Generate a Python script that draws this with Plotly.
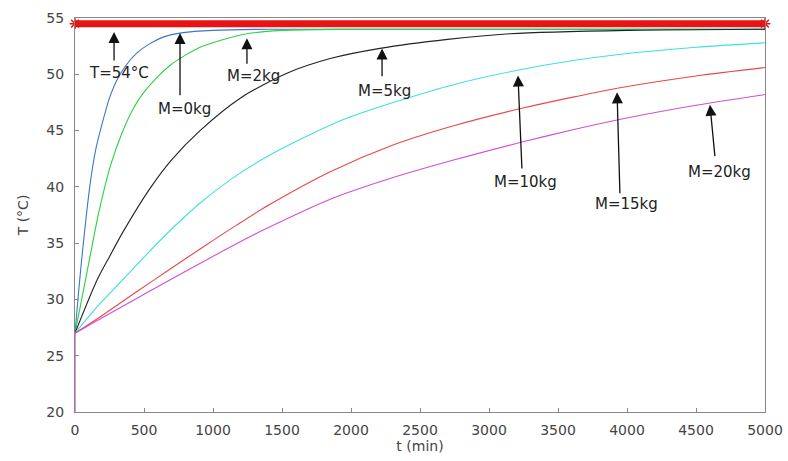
import plotly.graph_objects as go

# ---- data ----
t_init = [0, 0]
T_init = [20, 27]

t_m0 = [0, 30, 58, 109, 150, 203, 250, 304, 370, 449, 540, 638, 783, 1000, 1400, 5000]
T_m0 = [27, 31.2, 34.7, 40.2, 43.3, 45.9, 47.9, 49.5, 50.8, 51.9, 52.7, 53.3, 53.7, 53.9, 54.0, 54.0]

t_m2 = [0, 58, 123, 170, 260, 348, 420, 493, 600, 690, 800, 906, 1050, 1246, 1500, 2000, 5000]
T_m2 = [27, 30.6, 34.7, 37.6, 42.0, 45.0, 46.9, 48.3, 49.8, 50.8, 51.7, 52.4, 53.0, 53.6, 53.9, 54.0, 54.0]

t_m5 = [0, 159, 250, 348, 540, 700, 906, 1200, 1536, 1850, 2210, 2700, 3152, 4000, 5000]
T_m5 = [27, 31.7, 33.8, 36.0, 39.8, 42.4, 45.0, 47.9, 50.1, 51.4, 52.3, 53.1, 53.6, 53.9, 54.0]

t_m10 = [0, 150, 304, 480, 688, 900, 1145, 1380, 1630, 1950, 2283, 2750, 3225, 3600, 3971, 4500, 5000]
T_m10 = [27, 29.2, 31.2, 33.5, 36.1, 38.5, 40.8, 42.6, 44.2, 46.0, 47.4, 49.1, 50.4, 51.2, 51.8, 52.4, 52.8]

t_m15 = [0, 200, 449, 690, 928, 1170, 1413, 1850, 2300, 2750, 3246, 3600, 3971, 4500, 5000]
T_m15 = [27, 28.6, 30.7, 32.7, 34.65, 36.6, 38.45, 41.35, 43.7, 45.45, 47.0, 47.95, 48.85, 49.85, 50.6]

t_m20 = [0, 200, 449, 690, 928, 1170, 1413, 1850, 2300, 2750, 3246, 3600, 3971, 4500, 5000]
T_m20 = [27, 28.4, 30.1, 31.75, 33.35, 34.95, 36.45, 38.9, 40.8, 42.4, 44.0, 45.05, 46.05, 47.25, 48.2]

t_set = [0, 5000]
T_set = [54.5, 54.5]

x_ticks = [0, 500, 1000, 1500, 2000, 2500, 3000, 3500, 4000, 4500, 5000]
y_ticks = [20, 25, 30, 35, 40, 45, 50, 55]

# labels: text, arrow head (t,T), arrow tail (t,T), text position (t,T)
labels = ["T=54°C", "M=0kg", "M=2kg", "M=5kg", "M=10kg", "M=15kg", "M=20kg"]
head_t = [283, 761, 1246, 2225, 3210, 3928, 4601]
head_T = [53.76, 53.67, 53.2, 52.3, 49.9, 48.4, 47.3]
tail_t = [283, 761, 1246, 2225, 3239, 3949, 4638]
tail_T = [51.1, 48.0, 50.8, 49.7, 41.5, 39.3, 42.6]
text_t = [319, 790, 1297, 2246, 3261, 3993, 4667]
text_T = [50.1, 46.9, 49.85, 48.5, 40.4, 38.5, 41.3]

fig = go.Figure()

curves = [
    (t_m0, T_m0, "#3a78c8"),
    (t_m2, T_m2, "#2ed040"),
    (t_m5, T_m5, "#222222"),
    (t_m10, T_m10, "#3fe0e0"),
    (t_m15, T_m15, "#e84848"),
    (t_m20, T_m20, "#d050d0"),
]
for tx, ty, c in curves:
    fig.add_trace(go.Scatter(x=tx, y=ty, mode="lines",
                             line=dict(color=c, width=1.1, shape="spline", smoothing=0.8),
                             showlegend=False, hoverinfo="skip"))

fig.add_trace(go.Scatter(x=t_init, y=T_init, mode="lines",
                         line=dict(color="#d050d0", width=1.3),
                         showlegend=False, hoverinfo="skip"))

fig.add_trace(go.Scatter(x=t_set, y=T_set, mode="lines+markers",
                         line=dict(color="#e81414", width=7),
                         marker=dict(symbol="asterisk-open", size=9, color="#e81414",
                                     line=dict(color="#e81414", width=1.5)),
                         showlegend=False, hoverinfo="skip", cliponaxis=False))

for i, lab in enumerate(labels):
    fig.add_annotation(x=head_t[i], y=head_T[i], ax=tail_t[i], ay=tail_T[i],
                       xref="x", yref="y", axref="x", ayref="y",
                       text="", showarrow=True, arrowhead=2, arrowsize=1.7,
                       arrowwidth=1.3, arrowcolor="#111111")
    fig.add_annotation(x=text_t[i], y=text_T[i], xref="x", yref="y",
                       text=lab, showarrow=False,
                       font=dict(family="DejaVu Sans", size=15, color="#222222"))

axis_common = dict(showline=True, linecolor="#888888", linewidth=1.2, mirror=True,
                   ticks="inside", ticklen=4, tickcolor="#888888",
                   showgrid=False, zeroline=False, automargin=False,
                   tickfont=dict(family="DejaVu Sans", size=14, color="#444444"))

fig.update_xaxes(range=[0, 5000], tickvals=x_ticks, ticktext=[str(v) for v in x_ticks],
                 ticklabelstandoff=5,
                 title=dict(text="t (min)", font=dict(family="DejaVu Sans", size=14, color="#444444"),
                            standoff=4),
                 **axis_common)
fig.update_yaxes(range=[20, 55], tickvals=y_ticks, ticktext=[str(v) for v in y_ticks],
                 ticklabelstandoff=7,
                 title=dict(text="T (°C)", font=dict(family="DejaVu Sans", size=14, color="#444444"),
                            standoff=14),
                 **axis_common)

fig.update_layout(width=788, height=461, margin=dict(l=75, r=23, t=18, b=49),
                  paper_bgcolor="white", plot_bgcolor="white")

fig.write_html("out.html")
